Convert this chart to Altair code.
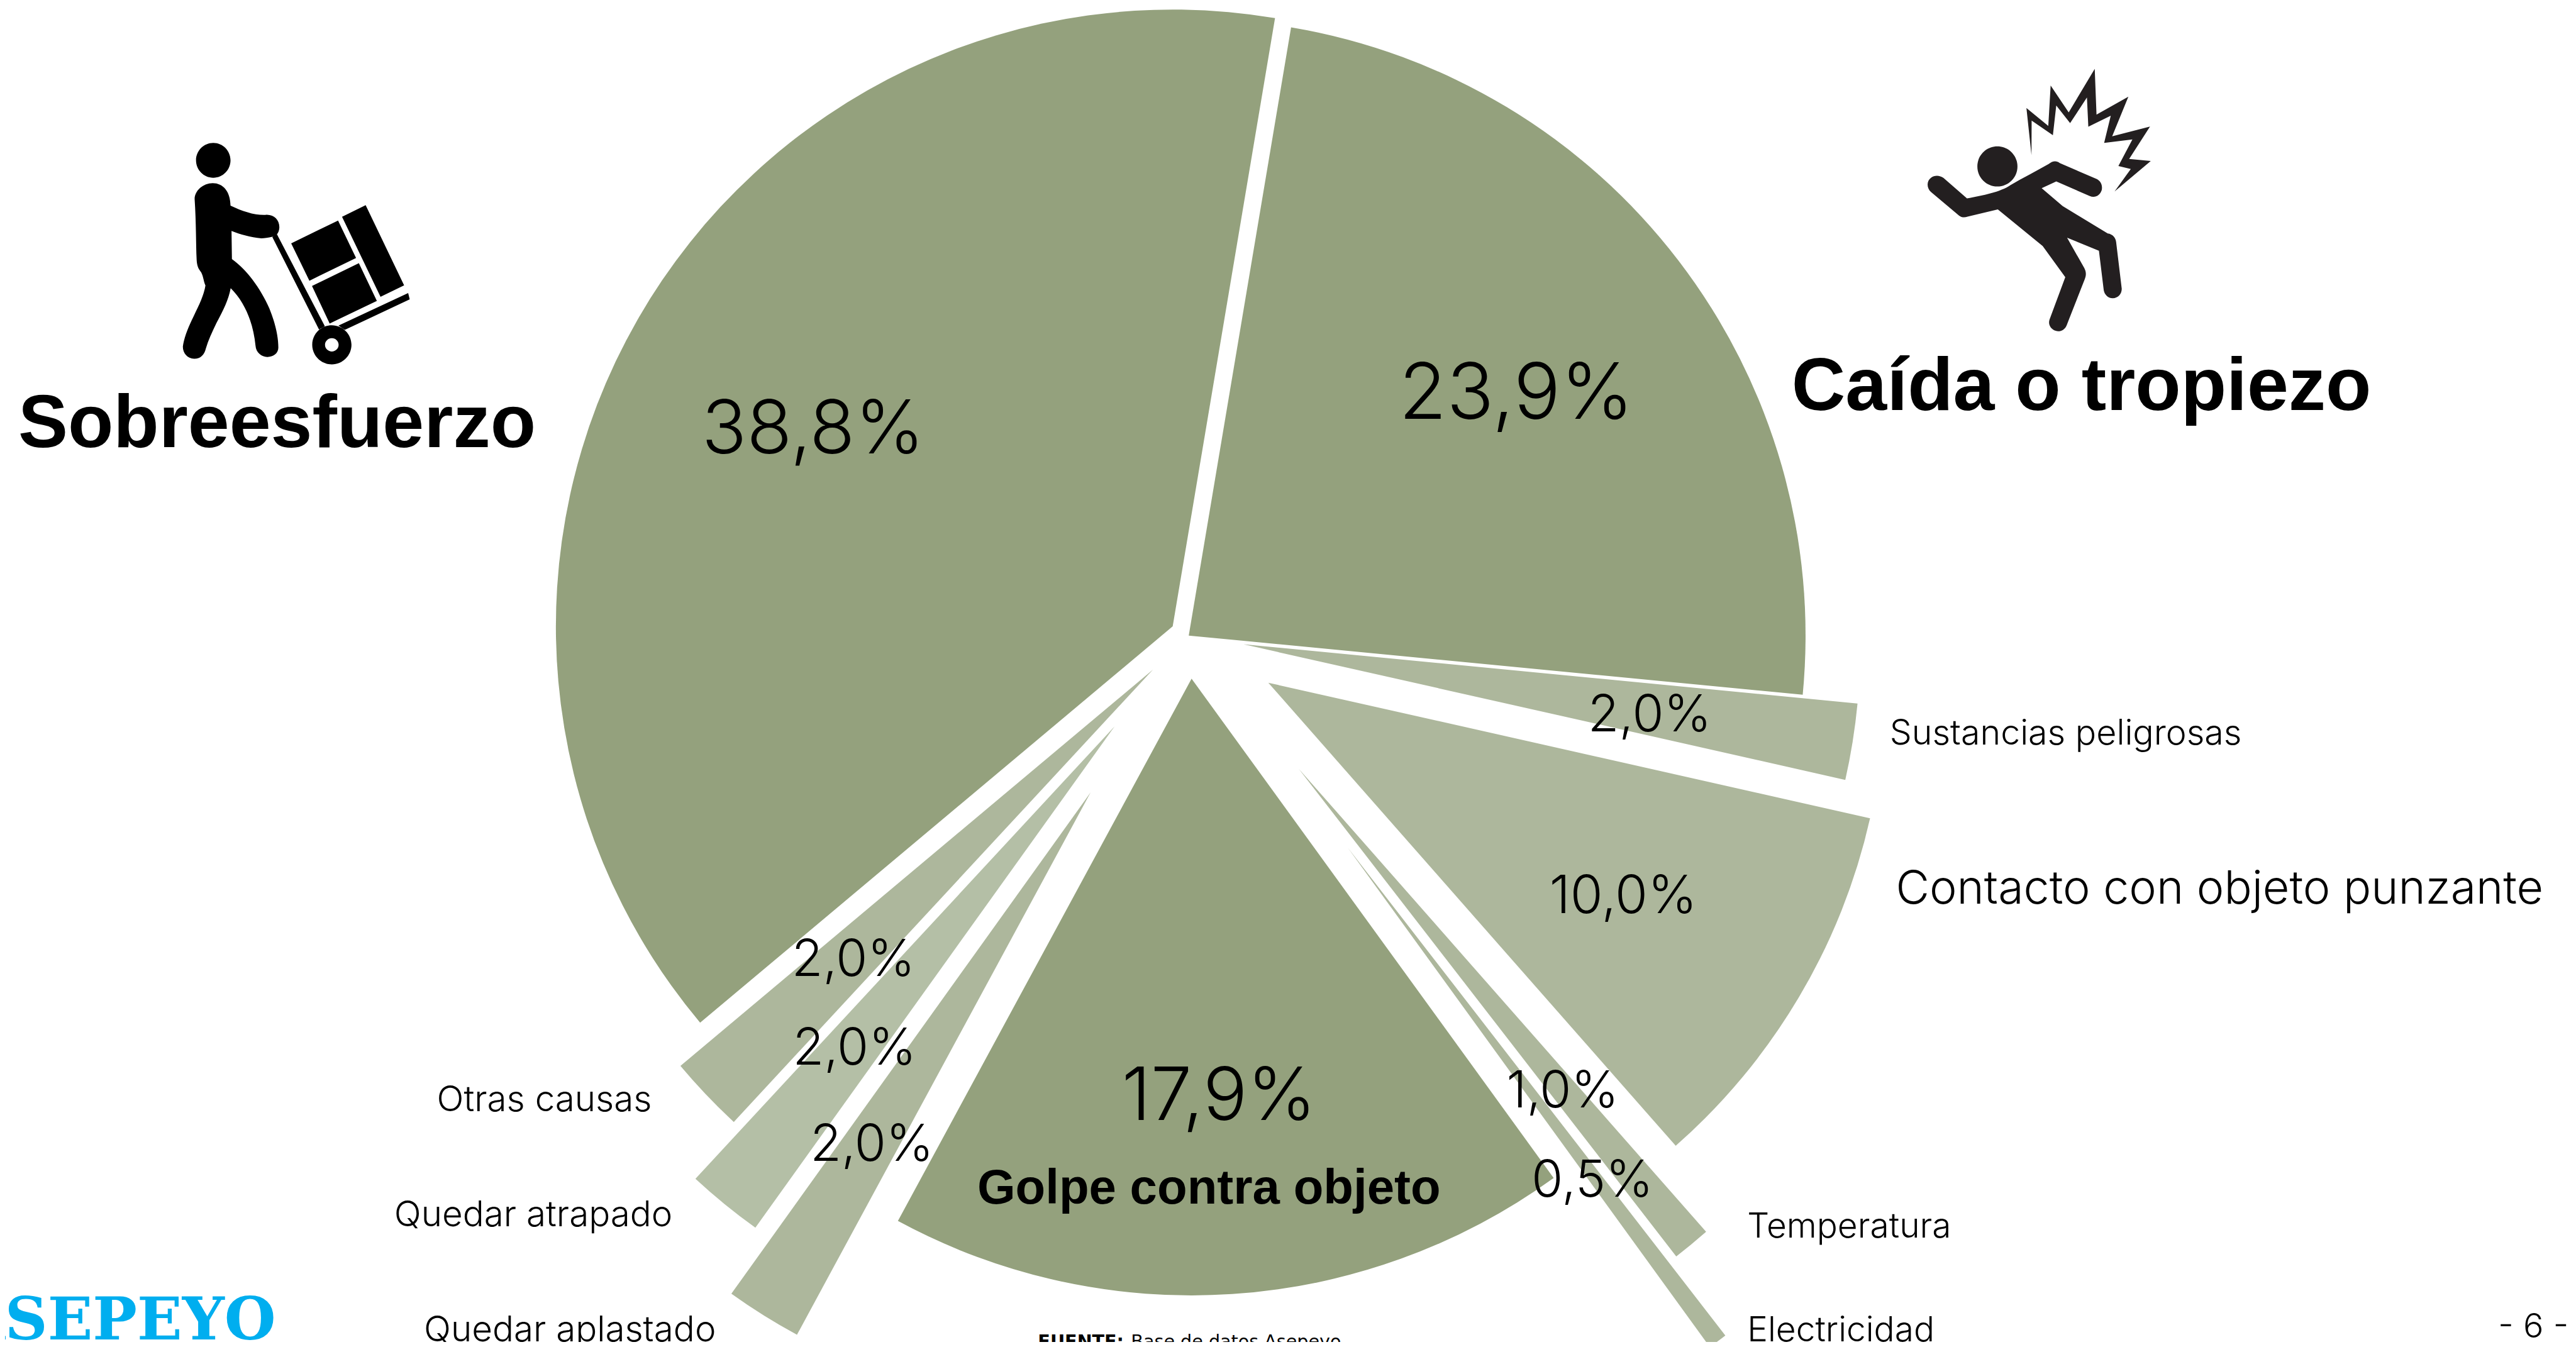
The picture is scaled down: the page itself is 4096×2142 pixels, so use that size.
import math, re
import altair as alt
import pandas as pd

# ---- chart values (clockwise from the top) ----
causas = ["Caída o tropiezo", "Sustancias peligrosas", "Contacto con objeto punzante", "Temperatura",
          "Electricidad", "Golpe contra objeto", "Quedar aplastado", "Quedar atrapado", "Otras causas", "Sobreesfuerzo"]
valores = [23.9, 2.0, 10.0, 1.0, 0.5, 17.9, 2.0, 2.0, 2.0, 38.8]
explosion = [0, 9, 15, 28, 43, 7, 30, 19, 8, 3]
colores = ["#94A17D", "#ADB79C", "#ADB79C", "#ADB79C", "#ADB79C", "#94A17D", "#ADB79C", "#B4BFA6", "#ADB79C", "#94A17D"]

# ---- layout: everything is laid out in reference pixels ----
K = 4096 / 4594
W, H = 4080, 2126
CX, CY, R = 2120.0, 1133.5, 1100.0
A0 = 9.55
TOTAL = sum(valores)
SX = alt.Scale(domain=[8 / K, (8 + W) / K], nice=False, zero=False)
SY = alt.Scale(domain=[(8 + H) / K, 8 / K], nice=False, zero=False)
X = lambda f="x": alt.X(f"{f}:Q", scale=SX, axis=None)
Y = lambda f="y": alt.Y(f"{f}:Q", scale=SY, axis=None)

ini, fin, xs, ys, acum = [], [], [], [], 0.0
for v, e in zip(valores, explosion):
    mid = math.radians(A0 + (acum + v / 2) / TOTAL * 360)
    ini.append(acum); fin.append(acum + v); acum += v
    xs.append(CX + e / 100 * R * math.sin(mid))
    ys.append(CY - e / 100 * R * math.cos(mid))
pie = pd.DataFrame({"causa": causas, "ini": ini, "fin": fin, "x": xs, "y": ys})

arcs = alt.Chart(pie).mark_arc(radius=R * K).encode(
    x=X(), y=Y(),
    theta=alt.Theta("ini:Q", stack=None, scale=alt.Scale(domain=[0, TOTAL], range=[math.radians(A0), math.radians(A0 + 360)])),
    theta2="fin:Q",
    color=alt.Color("causa:N", scale=alt.Scale(domain=causas, range=colores), legend=None),
)

# ---- texts ----
LIGHT = "Inter"
BOLD = "Liberation Sans"
text_groups = [
    (LIGHT, 300, 118, "center", "#000000", [("38,8%", 1450, 809)]),
    (LIGHT, 300, 124, "center", "#000000", [("23,9%", 2704, 747)]),
    (LIGHT, 300, 117, "center", "#000000", [("17,9%", 2174, 1998)]),
    (LIGHT, 300, 84, "center", "#000000", [("10,0%", 2895, 1629)]),
    (LIGHT, 300, 81, "center", "#000000", [("2,0%", 2942, 1304), ("1,0%", 2787, 1975),
                                           ("0,5%", 2840, 2134), ("2,0%", 1522, 1741), ("2,0%", 1524, 1899), ("2,0%", 1555, 2071)]),
    (BOLD, 700, 78, "center", "#000000", [("Golpe contra objeto", 2156, 2147)]),
    (BOLD, 700, 118.5, "center", "#000000", [("Sobreesfuerzo", 494, 798), ("Caída o tropiezo", 3712, 731)]),
    (LIGHT, 300, 55.5, "left", "#000000", [("Sustancias peligrosas", 3370, 1328)]),
    (LIGHT, 300, 55, "left", "#000000", [("Temperatura", 3116, 2207), ("Electricidad", 3116, 2392)]),
    (LIGHT, 300, 56.5, "left", "#000000", [("Otras causas", 779, 1982), ("Quedar atrapado", 703, 2187), ("Quedar aplastado", 756, 2392)]),
    (LIGHT, 300, 73.5, "left", "#000000", [("Contacto con objeto punzante", 3381, 1612)]),
    (LIGHT, 300, 54, "center", "#000000", [("- 6 -", 4518, 2386)]),
    ("DejaVu Serif", 700, 94, "right", "#00AEEF", [("ASEPEYO", 492, 2389)]),
    ("DejaVu Sans", 700, 28.6, "left", "#000000", [("FUENTE:", 1851, 2403)]),
    ("DejaVu Sans", 400, 28.6, "left", "#000000", [("Base de datos Asepeyo", 2017, 2403)]),
]
text_layers = []
for font, weight, size, align, col, rows in text_groups:
    df = pd.DataFrame(rows, columns=["t", "x", "y"])
    text_layers.append(alt.Chart(df).mark_text(font=font, fontWeight=weight, fontSize=size, align=align,
                                               baseline="alphabetic", color=col).encode(x=X(), y=Y(), text="t:N"))

# ---- pictograms ----
def conv(d, fx, fy):
    def rep(m):
        return f"{float(m.group(1)) / fx:.1f},{float(m.group(2)) / fy:.1f}"
    return re.sub(r"(-?\d+\.?\d*)[ ,]+(-?\d+\.?\d*)", rep, d)

def ell(cx, cy, rx, ry, rev=False):
    k = 0.5523
    s = 1 if not rev else -1
    return (f"M{cx - rx} {cy} C{cx - rx} {cy - s * k * ry} {cx - k * rx} {cy - s * ry} {cx} {cy - s * ry} "
            f"C{cx + k * rx} {cy - s * ry} {cx + rx} {cy - s * k * ry} {cx + rx} {cy} "
            f"C{cx + rx} {cy + s * k * ry} {cx + k * rx} {cy + s * ry} {cx} {cy + s * ry} "
            f"C{cx - k * rx} {cy + s * ry} {cx - rx} {cy + s * k * ry} {cx - rx} {cy} Z ")

man1 = ("M272 465 C272 420 315 380 362 380 C415 380 450 425 451 500 C510 530 570 552 625 550 C665 545 695 575 695 615 "
        "C695 635 688 648 682 655 L660 667 C640 672 620 675 605 675 C550 670 500 655 456 636 L458 786 "
        "C530 840 600 940 645 1050 C675 1130 690 1200 690 1260 C690 1290 665 1310 635 1310 C605 1310 578 1285 576 1250 "
        "C565 1130 525 1020 452 942 C440 1010 410 1070 380 1130 C360 1175 340 1220 328 1265 C320 1300 300 1320 270 1320 "
        "C235 1318 213 1290 213 1255 C218 1210 240 1150 268 1090 C295 1030 318 980 326 928 C315 900 315 870 300 850 "
        "C288 835 283 815 282 790 C278 700 280 600 272 465 Z ")
dolly = ("M682 652 L922 1145 L893 1163 L660 668 Z M1338 968 L1346 1002 L1022 1165 L990 1142 Z "
         "M754 702 L988 580 L1078 780 L845 902 Z M858 930 L1092 808 L1182 1010 L946 1131 Z "
         "M1008 560 L1126 498 L1318 927 L1200 988 Z ")
icon1 = ell(365, 258, 86, 93) + man1 + dolly + ell(957, 1245, 98, 105) + ell(957, 1245, 34, 36, rev=True)

man2 = ("M262 735 C240 715 240 680 262 664 C280 650 305 650 325 665 L442 767 C520 752 610 735 660 700 C720 665 790 630 850 595 "
        "C870 578 890 578 905 590 L1085 668 C1110 678 1120 700 1115 725 C1105 755 1080 765 1055 755 L888 682 L815 716 L920 805 "
        "L1145 942 C1170 945 1185 965 1187 985 L1215 1218 C1215 1245 1195 1265 1170 1265 C1145 1265 1128 1245 1125 1225 "
        "L1101 1028 L942 963 L1028 1115 C1038 1135 1038 1150 1030 1170 L940 1400 C930 1425 905 1435 885 1428 "
        "C860 1420 845 1395 855 1370 L933 1160 L820 1005 L596 822 L445 858 C430 863 415 862 402 852 Z ")
spark = ("M764 550 L739 315 L848 405 L860 203 L950 337 L1080 120 L1089 348 L1248 259 L1167 457 L1356 408 L1252 570 L1360 580 "
         "L1179 732 L1260 620 L1198 605 L1268 472 L1127 490 L1160 354 L1048 409 L1041 263 L957 391 L888 303 L871 451 L765 378 Z ")
icon2 = ell(594, 607, 100, 100) + man2 + spark

iconos = [(conv(icon1, 2.8, 3.0), 250, 200, "#000000"), (conv(icon2, 2.8, 2.8), 3350, 80, "#231F20")]
icon_layers = []
for path, ax, ay, col in iconos:
    icon_layers.append(alt.Chart(pd.DataFrame({"x": [ax], "y": [ay]})).mark_point(
        shape=path, size=(2 * K) ** 2, filled=True, fill=col, opacity=1, strokeWidth=0
    ).encode(x=X(), y=Y()))

chart = alt.layer(arcs, *icon_layers, *text_layers).properties(
    width=W, height=H, padding=0, autosize=alt.AutoSizeParams(type="none")
).configure_view(stroke=None)

chart.save("out.html", embed_options={"renderer": "svg", "actions": False})
